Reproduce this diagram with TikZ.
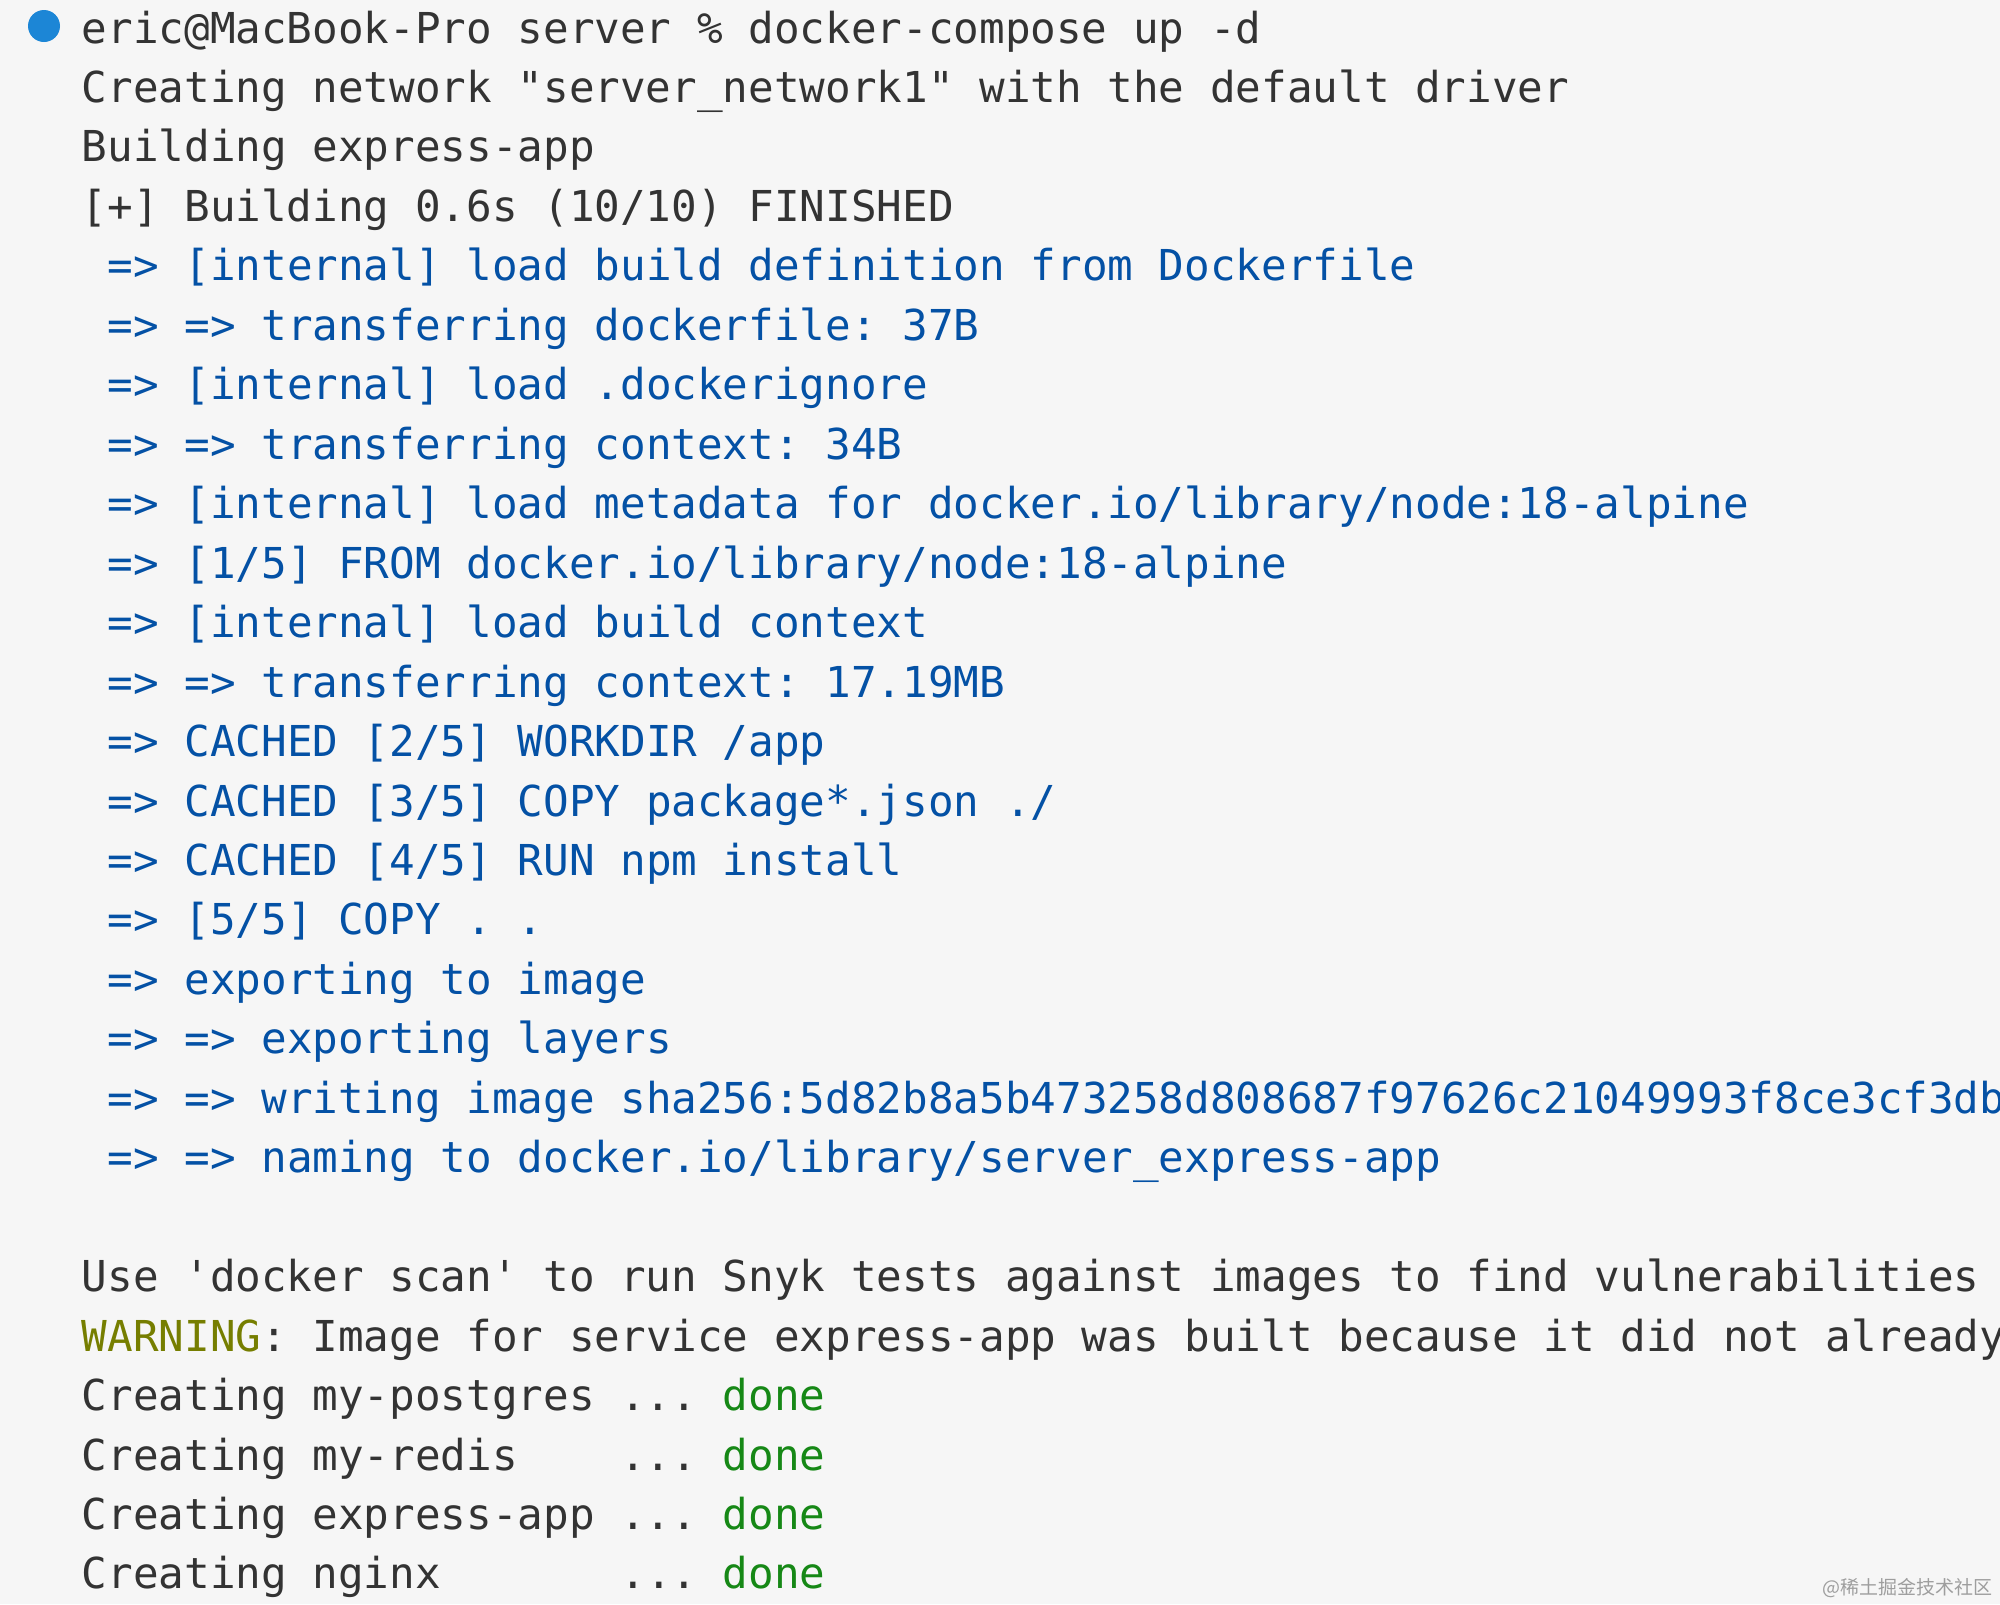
\documentclass[tikz,border=0pt]{standalone}
\usepackage{fontspec}
\setmonofont{DejaVu Sans Mono}
\newfontfamily\cjkfont{Noto Sans CJK SC}
\usepackage{tikz}
\usetikzlibrary{positioning}
\definecolor{termbg}{RGB}{246,246,246}
\definecolor{termfg}{RGB}{51,51,51}
\definecolor{termblue}{RGB}{4,81,165}
\definecolor{termgreen}{RGB}{22,136,22}
\definecolor{termolive}{RGB}{118,126,0}
\definecolor{termdot}{RGB}{28,134,214}
\tikzset{
  termline/.style = {anchor=base west, inner sep=0pt, font=\ttfamily\fontsize{42.6pt}{59.5pt}\selectfont},
  term_n/.style = {termline, text=termfg},
  term_b/.style = {termline, text=termblue},
  term_dot/.style = {circle, fill=termdot, inner sep=0pt, minimum size=32pt},
  mark_w/.style = {anchor=base east, inner sep=0pt, text=black!38, font=\cjkfont\fontsize{19pt}{22pt}\selectfont}
}
\newcommand{\done}{\textcolor{termgreen}{done}}

\begin{document}
\begin{tikzpicture}[x=1pt,y=-1pt]
\useasboundingbox (0,0) rectangle (2000,1604);
\fill[termbg] (0,0) rectangle (2000,1604);
\clip (0,0) rectangle (2000,1604);
% prompt
\node [term_dot] (dot) at (44,26) {};
\node [term_n] (prompt) at (81.6,43.0) {eric@MacBook-Pro server \% docker-compose up -d};
\node [term_n] (net)    at (81.6,102.5) {Creating network "server\_network1" with the default driver};
\node [term_n] (build)  at (81.6,161.9) {Building express-app};
\node [term_n] (fin)    at (81.6,221.4) {[+] Building 0.6s (10/10) FINISHED};
% build steps
\node [term_b] (s1)  at (107.3,280.8)  {=> [internal] load build definition from Dockerfile};
\node [term_b] (s2)  at (107.3,340.3)  {=> => transferring dockerfile: 37B};
\node [term_b] (s3)  at (107.3,399.8)  {=> [internal] load .dockerignore};
\node [term_b] (s4)  at (107.3,459.2)  {=> => transferring context: 34B};
\node [term_b] (s5)  at (107.3,518.7)  {=> [internal] load metadata for docker.io/library/node:18-alpine};
\node [term_b] (s6)  at (107.3,578.1)  {=> [1/5] FROM docker.io/library/node:18-alpine};
\node [term_b] (s7)  at (107.3,637.6)  {=> [internal] load build context};
\node [term_b] (s8)  at (107.3,697.1)  {=> => transferring context: 17.19MB};
\node [term_b] (s9)  at (107.3,756.5)  {=> CACHED [2/5] WORKDIR /app};
\node [term_b] (s10) at (107.3,816.0)  {=> CACHED [3/5] COPY package*.json ./};
\node [term_b] (s11) at (107.3,875.4)  {=> CACHED [4/5] RUN npm install};
\node [term_b] (s12) at (107.3,934.9)  {=> [5/5] COPY . .};
\node [term_b] (s13) at (107.3,994.3)  {=> exporting to image};
\node [term_b] (s14) at (107.3,1053.8) {=> => exporting layers};
\node [term_b] (s15) at (107.3,1113.3) {=> => writing image sha256:5d82b8a5b473258d808687f97626c21049993f8ce3cf3db};
\node [term_b] (s16) at (107.3,1172.7) {=> => naming to docker.io/library/server\_express-app};
% summary
\node [term_n] (scan) at (81.6,1291.6) {Use 'docker scan' to run Snyk tests against images to find vulnerabilities};
\node [term_n] (warn) at (81.6,1351.1) {\textcolor{termolive}{WARNING}: Image for service express-app was built because it did not already};
\node [term_n] (c1)   at (81.6,1410.6) {Creating my-postgres ... \done};
\node [term_n] (c2)   at (81.6,1470.0) {Creating my-redis~~~~... \done};
\node [term_n] (c3)   at (81.6,1529.5) {Creating express-app ... \done};
\node [term_n] (c4)   at (81.6,1588.9) {Creating nginx~~~~~~~... \done};
\node [mark_w] (mark) at (1993,1594) {@稀土掘金技术社区};
\end{tikzpicture}
\end{document}
